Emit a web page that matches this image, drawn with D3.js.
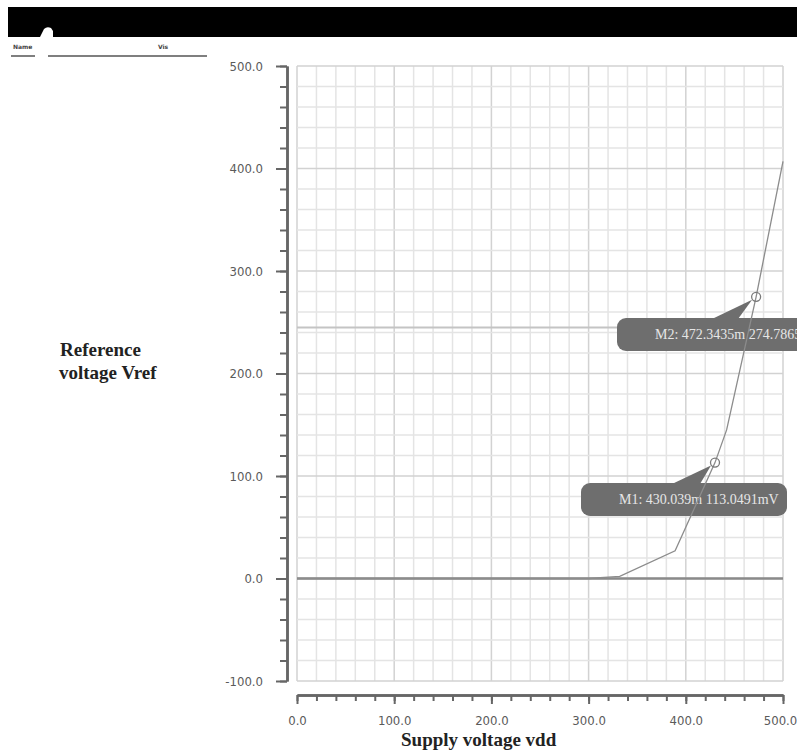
<!DOCTYPE html>
<html>
<head>
<meta charset="utf-8">
<script src="https://cdn.jsdelivr.net/npm/d3@7"></script>
<style>
  body { margin: 0; background: #fff; }
  svg { display: block; }
</style>
</head>
<body>
<div id="chart"></div>
<script>
// supply sweep (mV) and the reference output (mV)
const vdd  = [0, 300, 332, 389, 430.039, 442, 472.3435, 500];
const vref = [0, 0, 2, 27, 113.0491, 145, 274.786, 407];

const xMajor = [0, 100, 200, 300, 400, 500];
const yMajor = [-100, 0, 100, 200, 300, 400, 500];

const markerNames = ['M1', 'M2'];
const markerX = [430.039, 472.3435];
const markerY = [113.0491, 274.786];
const markerText = ['M1: 430.039m 113.0491mV', 'M2: 472.3435m 274.7865mV'];

const refLevel = 245;

let W = 797, H = 754;
let svg = d3.select('#chart').append('svg').attr('width', W).attr('height', H);

let x = d3.scaleLinear().domain([0, 500]).range([297, 783]);
let y = d3.scaleLinear().domain([-100, 500]).range([681, 66]);

// header strip of the simulator window
svg.append('rect').attr('x', 8).attr('y', 7).attr('width', W - 8).attr('height', 30).attr('fill', '#000');
svg.append('path').attr('d', 'M40,37 L44,29 Q47,26 51,28 L53,31 L53,37 Z').attr('fill', '#fff');
svg.append('text').attr('x', 13).attr('y', 49).style('font-family', 'DejaVu Sans').style('font-size', '6px')
   .style('font-weight', 'bold').attr('fill', '#444').text('Name');
svg.append('line').attr('x1', 11).attr('x2', 35).attr('y1', 56).attr('y2', 56).attr('stroke', '#555').attr('stroke-width', 1.5);
svg.append('text').attr('x', 158).attr('y', 49).style('font-family', 'DejaVu Sans').style('font-size', '6px')
   .style('font-weight', 'bold').attr('fill', '#444').text('Vis');
svg.append('line').attr('x1', 48).attr('x2', 207).attr('y1', 56).attr('y2', 56).attr('stroke', '#555').attr('stroke-width', 1.5);

// grid
let grid = svg.append('g');
let xMinor = x.ticks(25), yMinor = y.ticks(30);
grid.selectAll('.vg').data(xMinor).enter().append('line')
    .attr('x1', d => x(d)).attr('x2', d => x(d)).attr('y1', y(500)).attr('y2', y(-100))
    .attr('stroke', d => d % 100 == 0 ? '#d2d2d2' : '#e4e4e4').attr('stroke-width', 1.5);
grid.selectAll('.hg').data(yMinor).enter().append('line')
    .attr('x1', x(0)).attr('x2', x(500)).attr('y1', d => y(d)).attr('y2', d => y(d))
    .attr('stroke', d => d % 100 == 0 ? '#d2d2d2' : '#e4e4e4').attr('stroke-width', 1.5);

// marker level line and zero line
svg.append('line').attr('x1', x(0)).attr('x2', x(500)).attr('y1', y(refLevel)).attr('y2', y(refLevel))
   .attr('stroke', '#c4c4c4').attr('stroke-width', 2);
svg.append('line').attr('x1', x(0)).attr('x2', x(500)).attr('y1', y(0)).attr('y2', y(0))
   .attr('stroke', '#8a8a8a').attr('stroke-width', 2.5);

// axes
let tickFont = '"DejaVu Sans Condensed", "Liberation Sans Narrow", "DejaVu Sans", sans-serif';
let fmt = d => d3.format('.1f')(d).replace('\u2212', '-');
let yAxisMinor = d3.axisLeft(y).tickValues(yMinor).tickSize(7).tickFormat('').tickSizeOuter(0);
let yAxis = d3.axisLeft(y).tickValues(yMajor).tickSize(11).tickPadding(13).tickFormat(fmt).tickSizeOuter(0);
svg.append('g').attr('transform', 'translate(287,0)').call(yAxisMinor);
let gy = svg.append('g').attr('transform', 'translate(287,0)').call(yAxis);

let xAxisMinor = d3.axisBottom(x).tickValues(xMinor).tickSize(6).tickFormat('').tickSizeOuter(0);
let xAxis = d3.axisBottom(x).tickValues(xMajor).tickSize(9).tickPadding(12).tickFormat(fmt).tickSizeOuter(0);
svg.append('g').attr('transform', 'translate(0,695)').call(xAxisMinor);
let gx = svg.append('g').attr('transform', 'translate(0,695)').call(xAxis);
// last label sits right at the page edge
gx.selectAll('.tick text').filter(d => d == 500).attr('dx', -3);

svg.selectAll('.domain').attr('stroke', '#666').attr('stroke-width', 2.5);
svg.selectAll('.tick line').attr('stroke', '#666').attr('stroke-width', 2);
svg.selectAll('.tick text').style('font-family', tickFont).style('font-size', '13px').attr('fill', '#5a5a5a');

// marker bubbles
let bubbles = svg.append('g');
let bubbleBox = [[581, 483, 206], [617, 318, 200]];
let pointerBase = [[672, 700], [712, 738]];
markerNames.forEach(function(n, i){
    let b = bubbleBox[i];
    let mx = x(markerX[i]), my = y(markerY[i]);
    bubbles.append('path')
        .attr('d', `M${pointerBase[i][0]},${b[1] + 1} L${mx - 4},${my + 3} L${pointerBase[i][1]},${b[1] + 1} Z`)
        .attr('fill', '#6e6e6e');
    bubbles.append('rect').attr('x', b[0]).attr('y', b[1]).attr('width', b[2]).attr('height', 33)
        .attr('rx', 9).attr('fill', '#6e6e6e');
    bubbles.append('text').attr('x', b[0] + 38).attr('y', b[1] + 21)
        .style('font-family', '"Liberation Serif", serif').style('font-size', '14px')
        .attr('fill', '#e6e6e6').text(markerText[i]);
});

// curve
let line = d3.line().x((d, i) => x(vdd[i])).y((d, i) => y(vref[i]));
svg.append('path').datum(vref).attr('fill', 'none').attr('stroke', '#8c8c8c').attr('stroke-width', 1.3).attr('d', line);

svg.selectAll('.mk').data(markerX).enter().append('circle')
    .attr('cx', d => x(d)).attr('cy', (d, i) => y(markerY[i])).attr('r', 4.5)
    .attr('fill', 'none').attr('stroke', '#7a7a7a').attr('stroke-width', 1.3);

// axis titles
let titleFont = '"Liberation Serif", "DejaVu Serif", serif';
svg.append('text').attr('x', 60).attr('y', 356).style('font-family', titleFont).style('font-size', '19px')
   .style('font-weight', 'bold').attr('fill', '#222').text('Reference');
svg.append('text').attr('x', 59).attr('y', 379).style('font-family', titleFont).style('font-size', '19px')
   .style('font-weight', 'bold').attr('fill', '#222').text('voltage Vref');
svg.append('text').attr('x', 401).attr('y', 746).style('font-family', titleFont).style('font-size', '19px')
   .style('font-weight', 'bold').attr('fill', '#222').text('Supply voltage vdd');
</script>
</body>
</html>
